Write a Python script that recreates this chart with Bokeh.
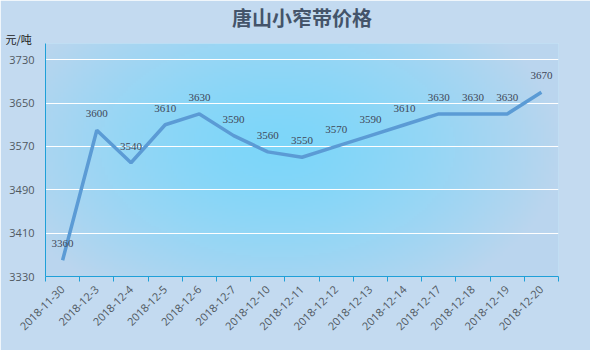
import numpy as np
from bokeh.plotting import figure
from bokeh.models import ColumnDataSource, FixedTicker, Range1d, Title, LabelSet
from bokeh.embed import file_html
from bokeh.resources import INLINE

dates = ["2018-11-30", "2018-12-3", "2018-12-4", "2018-12-5", "2018-12-6", "2018-12-7",
         "2018-12-10", "2018-12-11", "2018-12-12", "2018-12-13", "2018-12-14",
         "2018-12-17", "2018-12-18", "2018-12-19", "2018-12-20"]
prices = [3360, 3600, 3540, 3610, 3630, 3590, 3560, 3550, 3570, 3590, 3610, 3630, 3630, 3630, 3670]
y_ticks = [3330, 3410, 3490, 3570, 3650, 3730]

n = len(dates)
xs = list(range(n))
src = ColumnDataSource(dict(x=xs, y=prices, lbl=[str(v) for v in prices]))

p = figure(width=590, height=350, output_backend="svg", toolbar_location=None,
           x_range=Range1d(-0.5, n - 0.5), y_range=Range1d(3330, 3760),
           min_border_left=45, min_border_right=32, min_border_top=0, min_border_bottom=74)
p.outline_line_color = None
p.border_fill_color = "#c3daf0"
p.background_fill_color = "#a8d8f4"

# radial gradient background
H, W = 120, 200
yy, xx = np.mgrid[0:H, 0:W]
d = np.sqrt(((xx - W * 0.45) / (W * 0.55)) ** 2 + ((yy - H * 0.55) / (H * 0.75)) ** 2)
d = np.clip(d, 0, 1)
c0 = np.array([125, 215, 250])
c1 = np.array([186, 213, 238])
img = np.zeros((H, W), dtype=np.uint32)
view = img.view(dtype=np.uint8).reshape((H, W, 4))
for k in range(3):
    view[:, :, k] = (c0[k] + (c1[k] - c0[k]) * d ** 1.5).astype(np.uint8)
view[:, :, 3] = 255
p.image_rgba(image=[img], x=-0.5, y=3330, dw=n, dh=430, level="image")

p.line("x", "y", source=src, line_color="#5b9bd5", line_width=3.5)
p.add_layout(LabelSet(x="x", y="y", text="lbl", source=src, y_offset=13, text_align="center",
                      text_font="Open Sans", text_font_size="11px", text_color="#404858"))

p.xgrid.visible = False
p.ygrid.ticker = FixedTicker(ticks=y_ticks)
p.ygrid.grid_line_color = "white"
p.ygrid.grid_line_width = 1

p.yaxis.ticker = FixedTicker(ticks=y_ticks)
p.yaxis.axis_line_color = "#1fa0d8"
p.yaxis.major_tick_line_color = None
p.yaxis.minor_tick_line_color = None
p.yaxis.major_label_text_font = "Open Sans"
p.yaxis.major_label_text_font_size = "11px"
p.yaxis.major_label_text_color = "#505860"

p.xaxis.ticker = FixedTicker(ticks=xs, minor_ticks=[i - 0.5 for i in range(n + 1)])
p.xaxis.major_label_overrides = {i: d for i, d in enumerate(dates)}
p.xaxis.major_label_orientation = np.pi / 4
p.xaxis.axis_line_color = "#1fa0d8"
p.xaxis.major_tick_line_color = None
p.xaxis.minor_tick_line_color = "#1fa0d8"
p.xaxis.minor_tick_in = 0
p.xaxis.minor_tick_out = 5
p.xaxis.major_label_text_font = "Open Sans"
p.xaxis.major_label_text_font_size = "11px"
p.xaxis.major_label_text_color = "#505860"

p.title = Title(text="唐山小窄带价格", align="center", text_font="Noto Sans CJK SC",
                text_font_style="bold", text_font_size="20px", text_color="#44546a",
                standoff=0, offset=-45)
p.add_layout(Title(text="元/吨", align="left", text_font="Noto Sans CJK SC",
                   text_font_style="normal", text_font_size="11px", text_color="#202020",
                   offset=-40, standoff=-6), "above")

open("out.html", "w").write(file_html(p, INLINE))
